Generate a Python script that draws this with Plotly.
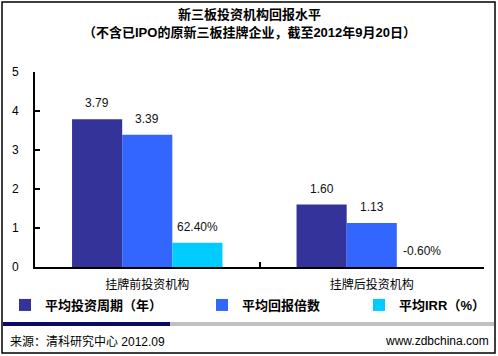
import plotly.graph_objects as go

categories = ["挂牌前投资机构", "挂牌后投资机构"]
series_names = ["平均投资周期（年）", "平均回报倍数", "平均IRR（%）"]
avg_period = [3.79, 1.60]
avg_multiple = [3.39, 1.13]
avg_irr = [0.624, -0.006]
series_colors = ["#333399", "#3366FF", "#00CCFF"]
y_ticks = [0, 1, 2, 3, 4, 5]
title_lines = ["新三板投资机构回报水平", "（不含已IPO的原新三板挂牌企业，截至2012年9月20日）"]

W, H = 498, 356
L, R, T, B = 35, 14, 72, 89
PW, PH = W - L - R, H - T - B
FONT = "Liberation Sans, Arial, Noto Sans CJK SC, sans-serif"


def px_x(px):
    return (px - L) / PW


def px_y(py):
    return (H - B - py) / PH


bargap = 0.33
bar_w = (1 - bargap) / 3

values = [avg_period, avg_multiple, avg_irr]
texts = [
    [f"{v:.2f}" for v in avg_period],
    [f"{v:.2f}" for v in avg_multiple],
    [f"{v * 100:.2f}%" for v in avg_irr],
]

fig = go.Figure()
legend_ids = ["legend", "legend2", "legend3"]
for k in range(3):
    fig.add_trace(go.Bar(
        x=categories, y=values[k], name=series_names[k],
        marker=dict(color=series_colors[k], line=dict(width=0)),
        legend=legend_ids[k], showlegend=True, hoverinfo="skip",
    ))

annotations = []
for k in range(3):
    for i, v in enumerate(values[k]):
        annotations.append(dict(
            x=i + (k - 1) * bar_w, y=max(v, 0), xref="x", yref="y",
            text=texts[k][i], showarrow=False, yanchor="bottom", yshift=7,
            font=dict(family=FONT, size=12, color="#111111"),
        ))

# title lines
for j, (line, py) in enumerate(zip(title_lines, [15, 32])):
    annotations.append(dict(
        x=px_x(249), y=px_y(py), xref="paper", yref="paper",
        text=f"<b>{line}</b>", showarrow=False,
        xanchor="center", yanchor="middle",
        font=dict(family=FONT, size=13, color="#000000"),
    ))

# footer texts
annotations.append(dict(
    x=px_x(8), y=px_y(341), xref="paper", yref="paper",
    text="来源：清科研究中心 2012.09", showarrow=False,
    xanchor="left", yanchor="middle",
    font=dict(family=FONT, size=12, color="#000000"),
))
annotations.append(dict(
    x=px_x(491), y=px_y(341), xref="paper", yref="paper",
    text="www.zdbchina.com", showarrow=False,
    xanchor="right", yanchor="middle",
    font=dict(family=FONT, size=12, color="#000000"),
))

shapes = [
    dict(type="rect", xref="paper", yref="paper",
         x0=px_x(2), x1=px_x(495), y0=px_y(2), y1=px_y(353),
         line=dict(color="#000000", width=1.5), fillcolor="rgba(0,0,0,0)"),
    dict(type="rect", xref="paper", yref="paper",
         x0=px_x(3), x1=px_x(170), y0=px_y(322), y1=px_y(326),
         line=dict(width=0), fillcolor="#0B0B66"),
    dict(type="rect", xref="paper", yref="paper",
         x0=px_x(170), x1=px_x(494), y0=px_y(322), y1=px_y(326),
         line=dict(width=0), fillcolor="#C0C0C0"),
]

legend_font = dict(family=FONT, size=13, color="#000000", weight="bold")
legend_common = dict(orientation="h", xanchor="left", yanchor="middle",
                     font=legend_font, bgcolor="rgba(0,0,0,0)",
                     borderwidth=0, itemclick=False, itemdoubleclick=False)

fig.update_layout(
    width=W, height=H, showlegend=True,
    margin=dict(l=L, r=R, t=T, b=B, pad=0, autoexpand=False),
    paper_bgcolor="#FFFFFF", plot_bgcolor="#FFFFFF",
    barmode="group", bargap=bargap, bargroupgap=0,
    legend=dict(x=px_x(5), y=px_y(305), **legend_common),
    legend2=dict(x=px_x(202), y=px_y(305), **legend_common),
    legend3=dict(x=px_x(359), y=px_y(305), **legend_common),
    xaxis=dict(
        type="category", showgrid=False, zeroline=False,
        showline=True, linecolor="#000000", linewidth=2,
        ticks="inside", tickson="boundaries", ticklen=5, tickwidth=2,
        tickcolor="#000000", ticklabelstandoff=6,
        tickfont=dict(family=FONT, size=12, color="#000000"),
    ),
    yaxis=dict(
        range=[0, 5], tickvals=y_ticks, showgrid=False, zeroline=False,
        showline=True, linecolor="#000000", linewidth=2,
        ticks="inside", ticklen=5, tickwidth=2, tickcolor="#000000",
        ticklabelstandoff=12,
        tickfont=dict(family=FONT, size=12, color="#000000"),
    ),
    annotations=annotations,
    shapes=shapes,
)

fig.write_html("out.html", config={"displayModeBar": False},
               post_script="document.body.style.margin='0';")
